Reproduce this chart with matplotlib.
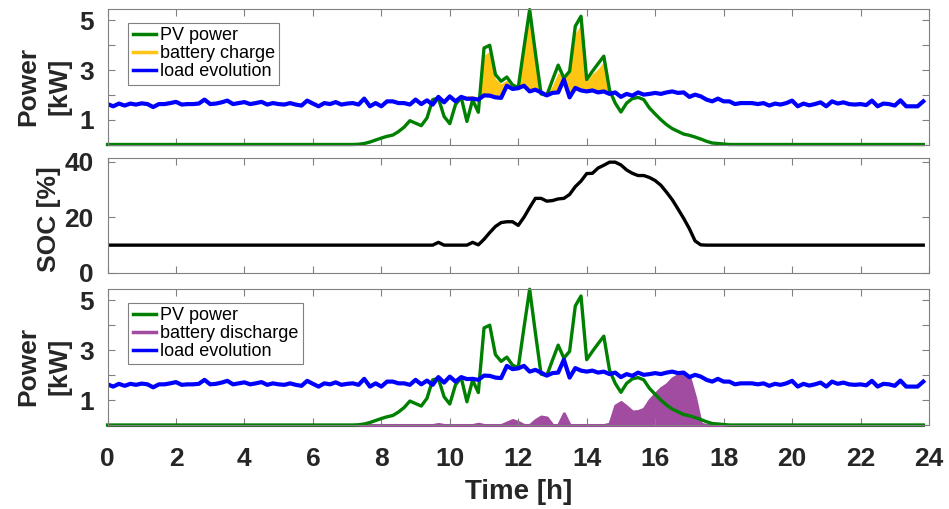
import numpy as np
import matplotlib
matplotlib.use("Agg")
import matplotlib.pyplot as plt
from matplotlib.lines import Line2D

plt.rcParams['font.family'] = ['Liberation Sans', 'DejaVu Sans']

# 10-minute steps over one day
time_h = np.arange(144) / 6.0

load_kw = [
    1.63, 1.54, 1.65, 1.57, 1.65, 1.61, 1.66, 1.63, 1.51, 1.63, 1.63, 1.67,
    1.72, 1.61, 1.63, 1.63, 1.65, 1.81, 1.63, 1.65, 1.70, 1.77, 1.63, 1.67,
    1.71, 1.63, 1.67, 1.72, 1.61, 1.67, 1.63, 1.61, 1.67, 1.61, 1.57, 1.77,
    1.65, 1.54, 1.67, 1.63, 1.71, 1.61, 1.65, 1.67, 1.61, 1.85, 1.54, 1.67,
    1.54, 1.74, 1.74, 1.67, 1.67, 1.61, 1.81, 1.63, 1.78, 1.61, 1.92, 1.70,
    1.94, 1.74, 1.92, 1.84, 1.85, 1.81, 1.98, 1.97, 1.90, 1.88, 2.37, 2.24,
    2.27, 2.37, 2.14, 2.21, 2.10, 1.98, 2.08, 2.10, 2.62, 1.90, 2.28, 2.18,
    2.14, 2.18, 2.10, 2.14, 2.04, 2.10, 1.92, 2.04, 1.97, 2.10, 2.01, 2.04,
    2.08, 2.04, 2.10, 2.14, 2.08, 2.10, 1.92, 2.01, 1.94, 1.81, 1.74, 1.85,
    1.74, 1.74, 1.63, 1.67, 1.67, 1.67, 1.63, 1.67, 1.57, 1.65, 1.61, 1.67,
    1.77, 1.54, 1.65, 1.58, 1.63, 1.70, 1.54, 1.74, 1.65, 1.70, 1.63, 1.61,
    1.63, 1.59, 1.77, 1.54, 1.65, 1.63, 1.57, 1.78, 1.54, 1.54, 1.54, 1.74,
]

pv_kw = [
    0, 0, 0, 0, 0, 0, 0, 0, 0, 0, 0, 0,
    0, 0, 0, 0, 0, 0, 0, 0, 0, 0, 0, 0,
    0, 0, 0, 0, 0, 0, 0, 0, 0, 0, 0, 0,
    0, 0, 0, 0, 0, 0, 0, 0, 0.01, 0.04, 0.10, 0.18,
    0.26, 0.33, 0.38, 0.52, 0.70, 0.96, 0.86, 0.76, 1.07, 1.81, 1.87, 1.13,
    0.84, 1.61, 1.90, 0.93, 1.80, 1.30, 3.89, 4.00, 2.82, 2.55, 2.72, 2.40,
    2.30, 3.90, 5.44, 3.70, 2.04, 1.98, 2.60, 3.20, 2.68, 2.95, 4.77, 5.17,
    2.62, 2.95, 3.26, 3.56, 2.20, 1.67, 1.31, 1.67, 1.85, 1.90, 1.81, 1.47,
    1.23, 1.00, 0.80, 0.64, 0.53, 0.42, 0.37, 0.30, 0.22, 0.13, 0.06, 0.04,
    0.02, 0, 0, 0, 0, 0, 0, 0, 0, 0, 0, 0,
    0, 0, 0, 0, 0, 0, 0, 0, 0, 0, 0, 0,
    0, 0, 0, 0, 0, 0, 0, 0, 0, 0, 0, 0,
]

charge_kw = [
    0, 0, 0, 0, 0, 0, 0, 0, 0, 0, 0, 0,
    0, 0, 0, 0, 0, 0, 0, 0, 0, 0, 0, 0,
    0, 0, 0, 0, 0, 0, 0, 0, 0, 0, 0, 0,
    0, 0, 0, 0, 0, 0, 0, 0, 0, 0, 0, 0,
    0, 0, 0, 0, 0, 0, 0, 0, 0, 0, 0, 0,
    0, 0, 0, 0.13, 0.12, 0.10, 1.62, 1.78, 0.75, 0.57, 0.23, 0.06,
    0.03, 1.43, 3.21, 1.39, 0, 0, 0.30, 0.80, 0.06, 1.00, 2.20, 2.67,
    0.41, 0.67, 0.95, 1.21, 0.05, 0, 0, 0, 0, 0, 0, 0,
    0, 0, 0, 0, 0, 0, 0, 0, 0, 0, 0, 0,
    0, 0, 0, 0, 0, 0, 0, 0, 0, 0, 0, 0,
    0, 0, 0, 0, 0, 0, 0, 0, 0, 0, 0, 0,
    0, 0, 0, 0, 0, 0, 0, 0, 0, 0, 0, 0,
]

discharge_kw = [
    0, 0, 0, 0, 0, 0, 0, 0, 0, 0, 0, 0,
    0, 0, 0, 0, 0, 0, 0, 0, 0, 0, 0, 0,
    0, 0, 0, 0, 0, 0, 0, 0, 0, 0, 0, 0,
    0, 0, 0, 0, 0, 0, 0, 0, 0, 0, 0, 0,
    0, 0, 0, 0, 0, 0, 0, 0, 0, 0, 0.04, 0,
    0, 0, 0, 0, 0, 0.05, 0, 0, 0, 0, 0.10, 0.20,
    0.12, 0, 0, 0.20, 0.34, 0.30, 0, 0, 0.47, 0, 0, 0,
    0, 0, 0, 0, 0.05, 0.78, 0.92, 0.74, 0.54, 0.56, 0.65, 1.00,
    1.25, 1.48, 1.63, 1.87, 2.00, 2.02, 1.90, 1.10, 0.05, 0, 0, 0,
    0, 0, 0, 0, 0, 0, 0, 0, 0, 0, 0, 0,
    0, 0, 0, 0, 0, 0, 0, 0, 0, 0, 0, 0,
    0, 0, 0, 0, 0, 0, 0, 0, 0, 0, 0, 0,
]

soc_pct = [
    10, 10, 10, 10, 10, 10, 10, 10, 10, 10, 10, 10,
    10, 10, 10, 10, 10, 10, 10, 10, 10, 10, 10, 10,
    10, 10, 10, 10, 10, 10, 10, 10, 10, 10, 10, 10,
    10, 10, 10, 10, 10, 10, 10, 10, 10, 10, 10, 10,
    10, 10, 10, 10, 10, 10, 10, 10, 10, 10, 11.0, 10.0,
    10.0, 10.0, 10.0, 10.0, 11.0, 10.1, 12.1, 14.5, 16.7, 18.1, 18.4, 18.4,
    17.1, 20.0, 23.5, 26.8, 26.8, 25.8, 26.0, 26.6, 26.8, 28.2, 31.0, 33.0,
    35.7, 35.8, 37.7, 38.7, 39.8, 39.8, 38.8, 37.0, 35.8, 35.0, 35.0, 34.3,
    33.2, 31.5, 29.0, 26.3, 23.0, 19.6, 15.9, 11.5, 10.1, 10, 10, 10,
    10, 10, 10, 10, 10, 10, 10, 10, 10, 10, 10, 10,
    10, 10, 10, 10, 10, 10, 10, 10, 10, 10, 10, 10,
    10, 10, 10, 10, 10, 10, 10, 10, 10, 10, 10, 10,
]

load_kw = np.array(load_kw)
pv_kw = np.array(pv_kw)
charge_kw = np.array(charge_kw)
discharge_kw = np.array(discharge_kw)
soc_pct = np.array(soc_pct)

green = '#008000'
blue = '#0000ff'
orange = '#ffc515'
purple = '#a14ca0'
frame_col = '#808080'
text_col = '#262626'
fs = 19


def add_legend(ax, colors, labels):
    handles = [Line2D([], [], color=c, lw=2.5) for c in colors]
    leg = ax.legend(handles, labels, loc='upper left', bbox_to_anchor=(0.025, 0.9),
                    borderaxespad=0, fontsize=13, fancybox=False, edgecolor=frame_col,
                    framealpha=1, handlelength=1.3, handletextpad=0.2, borderpad=0.25,
                    labelspacing=0.05)
    leg.get_frame().set_linewidth(0.8)
    return leg


fig = plt.figure(figsize=(9.49, 5.09), dpi=100)
ax1 = fig.add_axes([0.1133, 0.7161, 0.8656, 0.2656])
ax2 = fig.add_axes([0.1133, 0.4637, 0.8656, 0.2259])
ax3 = fig.add_axes([0.1133, 0.1650, 0.8656, 0.2672])

# top: PV, battery charge, load
ax1.fill_between(time_h, load_kw, load_kw + charge_kw, color=orange, lw=0)
ax1.plot(time_h, pv_kw, color=green, lw=2.4, clip_on=False)
ax1.plot(time_h, load_kw, color=blue, lw=3.0)
ax1.set_ylim(0, 5.45)
ax1.set_yticks([1, 2, 3, 4, 5])
ax1.set_yticklabels(['1', '', '3', '', '5'])
ax1.set_ylabel('Power\n[kW]', fontsize=fs, fontweight='bold', linespacing=1.35)
ax1.yaxis.set_label_coords(-0.044, 0.43)
add_legend(ax1, [green, orange, blue], ['PV power', 'battery charge', 'load evolution'])

# middle: state of charge
ax2.plot(time_h, soc_pct, color='black', lw=2.4)
ax2.set_ylim(0, 41.3)
ax2.set_yticks([0, 20, 40])
ax2.set_ylabel('SOC [%]', fontsize=fs, fontweight='bold')
ax2.yaxis.set_label_coords(-0.057, 0.47)

# bottom: PV, battery discharge, load
ax3.plot(time_h, pv_kw, color=green, lw=2.4, clip_on=False)
ax3.fill_between(time_h, 0, discharge_kw, color=purple, edgecolor=purple, lw=2.2, clip_on=False)
ax3.plot(time_h, load_kw, color=blue, lw=3.0)
ax3.set_ylim(0, 5.45)
ax3.set_yticks([1, 2, 3, 4, 5])
ax3.set_yticklabels(['1', '', '3', '', '5'])
ax3.set_ylabel('Power\n[kW]', fontsize=fs, fontweight='bold', linespacing=1.35)
ax3.yaxis.set_label_coords(-0.044, 0.43)
ax3.set_xlabel('Time [h]', fontsize=fs + 1, fontweight='bold')
ax3.xaxis.set_label_coords(0.5, -0.40)
add_legend(ax3, [green, purple, blue], ['PV power', 'battery discharge', 'load evolution'])

for ax in (ax1, ax2, ax3):
    ax.set_xlim(0, 24)
    ax.set_xticks(range(0, 25, 2))
    ax.tick_params(direction='in', top=True, right=True, length=5, width=0.8,
                   color=frame_col, labelsize=fs, labelcolor=text_col)
    ax.tick_params(axis='y', pad=10)
    ax.tick_params(axis='x', pad=16)
    for lab in ax.get_xticklabels() + ax.get_yticklabels():
        lab.set_fontweight('bold')
    for sp in ax.spines.values():
        sp.set_color(frame_col)
        sp.set_linewidth(0.8)
    ax.yaxis.label.set_color(text_col)
    ax.xaxis.label.set_color(text_col)

ax1.tick_params(labelbottom=False)
ax2.tick_params(labelbottom=False)

fig.savefig('out.png', dpi=100)
